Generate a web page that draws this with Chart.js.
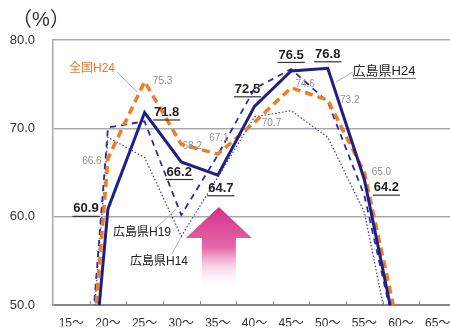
<!DOCTYPE html>
<html>
<head>
<meta charset="utf-8">
<script src="https://cdn.jsdelivr.net/npm/chart.js@4.4.0/dist/chart.umd.min.js"></script>
<style>
  html, body { margin: 0; padding: 0; background: #fff; overflow: hidden; }
  #wrap { width: 458px; height: 331px; }
</style>
</head>
<body>
<div id="wrap"><canvas id="rateChart" width="458" height="331"></canvas></div>
<script>
// female employment rate by age group (%)
const categories = ['15～', '20～', '25～', '30～', '35～', '40～', '45～', '50～', '55～', '60～', '65～'];
const hiroshimaH24 = [15, 60.9, 71.8, 66.2, 64.7, 72.5, 76.5, 76.8, 64.2, 44, null];
const zenkokuH24  = [15, 66.6, 75.3, 68.2, 67.1, 70.7, 74.6, 73.2, 65.0, 46, null];
const hiroshimaH19 = [17, 70.1, 70.8, 60.2, 67.0, 74.5, 76.7, 73.0, 62.4, 44, null];
const hiroshimaH14 = [16, 69.0, 66.7, 57.8, 64.5, 71.3, 72.0, 69.0, 60.5, 40, null];
const yTicks = [50, 60, 70, 80];

const JP = "'Liberation Sans', 'Noto Sans CJK JP', sans-serif";

// where the value labels sit relative to their point
const h24LabelOffsets = [null, [-22, 0], [22, 0], [-2, 10], [3, 13], [-7, -17], [0, -16], [0, -14], [22, 8]];
const zenkokuLabelOffsets = [null, [-16, 3], [18, 0], [11, 2], [1, -16], [17, 1], [14, -3], [22, 0], [17, 0]];

const arrowPlugin = {
  id: 'arrow',
  beforeDatasetsDraw(chart) {
    const ctx = chart.ctx;
    const xs = chart.scales.x, ys = chart.scales.y;
    const cx = xs.getPixelForValue(4) + 1;
    const tip = ys.getPixelForValue(61.1);
    const base = tip + 31;
    const end = tip + 82;
    const g = ctx.createLinearGradient(0, tip, 0, end);
    g.addColorStop(0, '#d5318a');
    g.addColorStop(0.5, '#e469aa');
    g.addColorStop(1, 'rgba(255,255,255,0)');
    ctx.save();
    ctx.fillStyle = g;
    ctx.beginPath();
    ctx.moveTo(cx, tip);
    ctx.lineTo(cx + 33, base);
    ctx.lineTo(cx + 17, base);
    ctx.lineTo(cx + 17, end);
    ctx.lineTo(cx - 17, end);
    ctx.lineTo(cx - 17, base);
    ctx.lineTo(cx - 33, base);
    ctx.closePath();
    ctx.fill();
    ctx.restore();
  }
};

const labelPlugin = {
  id: 'labels',
  afterDatasetsDraw(chart) {
    const ctx = chart.ctx;
    const xs = chart.scales.x, ys = chart.scales.y;
    const area = chart.chartArea;
    ctx.save();
    ctx.textAlign = 'center';
    ctx.textBaseline = 'middle';

    // tick marks on the x axis between categories
    ctx.strokeStyle = '#888';
    ctx.lineWidth = 1;
    for (let i = 1; i < categories.length; i++) {
      const x = Math.round((xs.getPixelForValue(i - 1) + xs.getPixelForValue(i)) / 2) + 0.5;
      ctx.beginPath();
      ctx.moveTo(x, area.bottom);
      ctx.lineTo(x, area.bottom - 4);
      ctx.stroke();
    }

    // 全国 values, small grey
    ctx.font = '10px ' + JP;
    ctx.fillStyle = '#8f8f8f';
    zenkokuLabelOffsets.forEach((o, i) => {
      if (!o) return;
      const x = xs.getPixelForValue(i) + o[0];
      const y = ys.getPixelForValue(zenkokuH24[i]) + o[1];
      ctx.fillText(zenkokuH24[i].toFixed(1), x, y);
    });

    // 広島県H24 values, bold underlined
    ctx.font = 'bold 13px ' + JP;
    ctx.fillStyle = '#222';
    ctx.strokeStyle = '#333';
    h24LabelOffsets.forEach((o, i) => {
      if (!o) return;
      const x = xs.getPixelForValue(i) + o[0];
      const y = ys.getPixelForValue(hiroshimaH24[i]) + o[1];
      const t = hiroshimaH24[i].toFixed(1);
      ctx.fillText(t, x, y);
      const w = ctx.measureText(t).width;
      ctx.lineWidth = 1.2;
      ctx.beginPath();
      ctx.moveTo(x - w / 2 - 1, y + 7.5);
      ctx.lineTo(x + w / 2 + 1, y + 7.5);
      ctx.stroke();
    });

    // series names with leader lines
    ctx.strokeStyle = '#b0b0b0';
    ctx.lineWidth = 1;
    const leader = (x1, y1, x2, y2) => {
      ctx.beginPath(); ctx.moveTo(x1, y1); ctx.lineTo(x2, y2); ctx.stroke();
    };
    leader(117, 72, 137, 92);
    leader(353, 72, 336, 82);
    leader(157, 227, 176, 209);
    leader(172, 254, 181, 237);

    ctx.font = '12px ' + JP;
    ctx.fillStyle = '#ee7a22';
    ctx.fillText('全国H24', 92, 69);

    ctx.font = '13px ' + JP;
    ctx.fillStyle = '#222';
    ctx.fillText('広島県H24', 384, 71);
    ctx.strokeStyle = '#777';
    leader(353, 78.5, 416, 78.5);

    ctx.font = '12px ' + JP;
    ctx.fillText('広島県H19', 142, 233);
    ctx.fillText('広島県H14', 159, 262);

    // unit
    ctx.font = '20px ' + JP;
    ctx.fillStyle = '#333';
    ctx.fillText('（%）', 41, 20);
    ctx.restore();
  }
};

new Chart(document.getElementById('rateChart'), {
  type: 'line',
  data: {
    labels: categories,
    datasets: [
      {
        label: '広島県H24',
        data: hiroshimaH24,
        borderColor: '#1f1f88',
        borderWidth: 3,
        pointRadius: 0,
        tension: 0
      },
      {
        label: '全国H24',
        data: zenkokuH24,
        borderColor: '#ef7d22',
        borderWidth: 3.5,
        borderDash: [8, 5],
        pointRadius: 0,
        tension: 0
      },
      {
        label: '広島県H19',
        data: hiroshimaH19,
        borderColor: '#2b2ba6',
        borderWidth: 1.8,
        borderDash: [6, 5],
        pointRadius: 0,
        tension: 0
      },
      {
        label: '広島県H14',
        data: hiroshimaH14,
        borderColor: '#3a3aaa',
        borderWidth: 1.2,
        borderDash: [1.5, 2],
        pointRadius: 0,
        tension: 0
      }
    ]
  },
  options: {
    responsive: false,
    animation: false,
    devicePixelRatio: 1,
    layout: { padding: { top: 40, right: 2, left: 0, bottom: 0 } },
    plugins: { legend: { display: false }, tooltip: { enabled: false } },
    scales: {
      x: {
        offset: true,
        grid: { display: false, offset: true },
        border: { display: true, color: '#888', width: 2 },
        ticks: { color: '#333', font: { size: 12, family: JP }, padding: 3, maxRotation: 0, autoSkip: false },
        afterFit: (s) => { s.height = 21; }
      },
      y: {
        min: 50,
        max: 80,
        afterBuildTicks: (s) => { s.ticks = yTicks.map(v => ({ value: v })); },
        grid: { color: '#a9a9a9', lineWidth: 1.5, drawTicks: false },
        border: { display: true, color: '#aaa', width: 1.5 },
        ticks: {
          color: '#333',
          font: { size: 13, family: JP },
          padding: 18,
          callback: (v) => v.toFixed(1)
        },
        afterFit: (s) => { s.width = 53; }
      }
    }
  },
  plugins: [arrowPlugin, labelPlugin]
});
</script>
</body>
</html>
